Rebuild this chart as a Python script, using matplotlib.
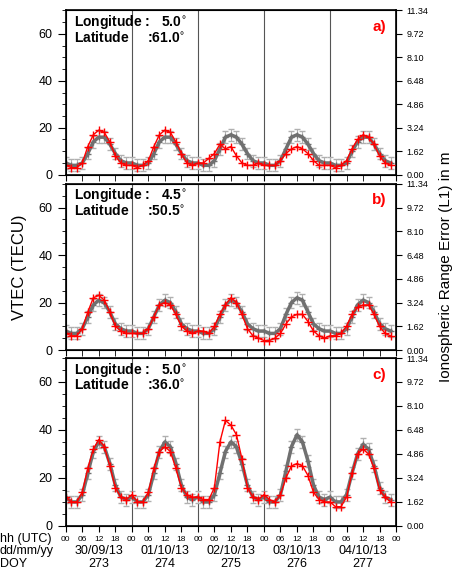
import matplotlib
matplotlib.use("Agg")
import matplotlib.pyplot as plt
import numpy as np

plt.rcParams['font.family'] = ['Liberation Sans', 'DejaVu Sans']

hours = [0, 2, 4, 6, 8, 10, 12, 14, 16, 18, 20, 22]
dates = ["30/09/13", "01/10/13", "02/10/13", "03/10/13", "04/10/13"]
doys = ["273", "274", "275", "276", "277"]
hour_labels = ["00", "06", "12", "18"]

model_a = [5,4,4,5,9,14,16,16,13,9,6,5, 5,4,4,5,9,14,16,16,13,9,6,5,
           5,4,4,6,11,16,17,16,13,9,6,5, 5,4,4,6,11,16,17,16,13,9,6,5,
           5,4,4,5,10,14,16,16,13,9,6,5]
obs_a = [4,3,3,5,12,17,19,18,14,8,5,4, 4,3,4,6,12,17,19,18,14,9,5,4,
         5,5,7,9,13,11,12,8,5,4,4,5, 4,4,4,6,9,11,12,11,9,6,4,4,
         4,3,4,6,11,15,17,16,13,8,5,4]
model_b = [8,7,7,9,14,19,21,20,16,11,9,8, 8,7,7,9,14,19,21,20,16,11,9,8,
           8,7,7,9,14,19,21,20,16,11,9,8, 8,7,7,9,15,20,22,21,16,11,9,8,
           8,7,7,9,14,19,21,20,16,11,9,8]
obs_b = [7,6,6,9,16,22,23,21,16,10,8,7, 7,7,7,9,14,19,20,19,15,10,8,7,
         8,8,7,10,15,19,22,20,15,9,6,5, 4,4,5,7,11,14,15,15,12,8,6,5,
         6,6,7,10,15,18,19,19,15,10,7,6]
model_c = [12,10,10,13,22,31,35,33,26,17,12,11, 12,10,10,13,22,31,35,33,26,17,12,11,
           12,10,10,13,22,31,35,33,26,17,12,11, 12,10,10,13,23,33,38,35,27,17,12,11,
           12,10,10,13,22,30,34,32,25,16,12,11]
obs_c = [12,10,10,14,24,32,36,33,25,16,12,11, 13,10,10,14,24,31,33,31,24,16,13,12,
         12,11,11,16,35,44,42,38,28,16,12,11, 13,11,10,13,20,25,26,25,21,14,11,10,
         10,8,8,12,22,30,32,30,24,15,12,10]

panels = [("a)", "5.0", "61.0", model_a, obs_a),
          ("b)", "4.5", "50.5", model_b, obs_b),
          ("c)", "5.0", "36.0", model_c, obs_c)]

t = np.array([d*24 + h for d in range(5) for h in hours])
fig = plt.figure(figsize=(4.6, 5.71), dpi=100)
boxes = [(0.694, 0.982), (0.387, 0.678), (0.079, 0.373)]
left, right = 0.143, 0.861
for i, ((lab, lon, lat, mod, obs), (b, tp)) in enumerate(zip(panels, boxes)):
    ax = fig.add_axes([left, b, right-left, tp-b])
    ax.errorbar(t, mod, yerr=2.5, color='#707070', ecolor='#b0b0b0', lw=2.5,
                elinewidth=0.8, capsize=2, marker='+', ms=4, zorder=2)
    ax.plot(t, obs, color='red', lw=1, marker='+', ms=6, mew=1, zorder=3)
    for d in range(1, 5):
        ax.axvline(d*24, color='#555555', lw=0.8, zorder=1)
    ax.set_xlim(0, 120)
    ax.set_ylim(0, 70)
    ax.set_yticks([0, 20, 40, 60])
    ax.set_yticks(range(0, 71, 5), minor=True)
    ax.set_xticks(range(0, 121, 24))
    ax.set_xticks(range(0, 121, 6), minor=True)
    ax.tick_params(axis='both', which='both', direction='out', labelsize=9)
    ax.tick_params(axis='y', which='major', length=6)
    ax.tick_params(axis='y', which='minor', length=3)
    ax.tick_params(axis='x', which='both', length=4)
    for s in ax.spines.values():
        s.set_linewidth(1.2)
    if i < 2:
        ax.set_xticklabels([])
        ax.tick_params(axis='x', which='minor', labelbottom=False)
    else:
        ax.set_xticks(range(0, 121, 6))
        ax.set_xticklabels([hour_labels[k % 4] for k in range(21)], fontsize=6)
    ax.text(0.025, 0.985, f"Longitude :   {lon}$^{{\\circ}}$\nLatitude     :{lat}$^{{\\circ}}$",
            transform=ax.transAxes, va='top', ha='left', fontsize=10,
            fontweight='bold', linespacing=0.9)
    ax.text(0.97, 0.9, lab, transform=ax.transAxes, color='red', fontsize=11,
            fontweight='bold', ha='right', va='center')
    ax2 = ax.twinx()
    ax2.set_ylim(0, 70 * 0.162)
    ax2.set_yticks([k*1.62 for k in range(8)])
    ax2.set_yticklabels([f"{k*1.62:.2f}" for k in range(8)], fontsize=6.5)
    ax2.tick_params(axis='y', direction='out', length=4)
    if i == 1:
        ax.set_ylabel("VTEC (TECU)", fontsize=12, labelpad=8)
        ax2.set_ylabel("Ionospheric Range Error (L1) in m", fontsize=11, labelpad=8)

fig.text(0.0, 0.056, "hh (UTC)", fontsize=9, va='center')
fig.text(0.0, 0.035, "dd/mm/yy", fontsize=9, va='center')
fig.text(0.0, 0.013, "DOY", fontsize=9, va='center')
for d in range(5):
    x = left + (right-left) * (d*24 + 12) / 120
    fig.text(x, 0.035, dates[d], fontsize=9, ha='center', va='center')
    fig.text(x, 0.013, doys[d], fontsize=9, ha='center', va='center')
fig.savefig("out.png", dpi=100)
